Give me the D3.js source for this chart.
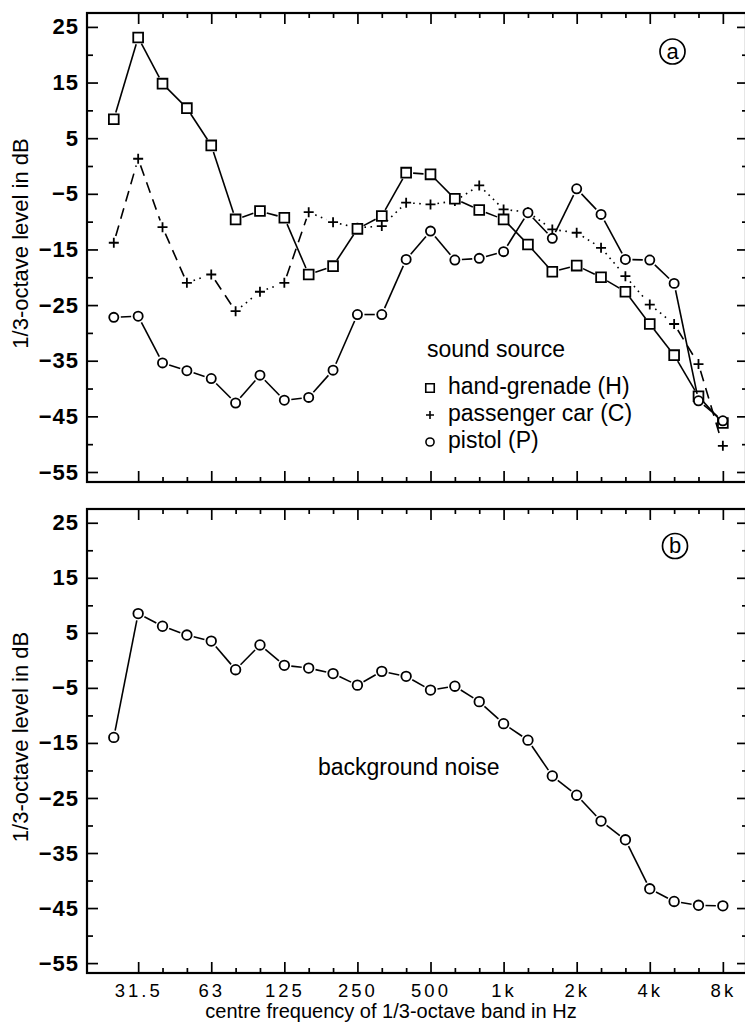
<!DOCTYPE html>
<html>
<head>
<meta charset="utf-8">
<script src="https://cdn.jsdelivr.net/npm/d3@7"></script>
<style>
  body { margin: 0; background: #fff; }
  svg text { font-family: 'Liberation Sans', Arial, Helvetica, sans-serif; fill: #000; }
</style>
</head>
<body>
<div id="chart"></div>
<script>
// 1/3-octave band centre frequencies (Hz)
const bands = ['25', '31.5', '40', '50', '63', '80', '100', '125', '160', '200', '250', '315', '400',
  '500', '630', '800', '1k', '1.25k', '1.6k', '2k', '2.5k', '3.15k', '4k', '5k', '6.3k', '8k'];
const xMajorLabels = ['31.5', '63', '125', '250', '500', '1k', '2k', '4k', '8k'];
const yMajorTicks = [25, 15, 5, -5, -15, -25, -35, -45, -55];
const yMinorTicks = [20, 10, 0, -10, -20, -30, -40, -50];

// levels in dB
const handGrenade = [8.4, 23.1, 14.8, 10.4, 3.7, -9.6, -8.1, -9.3, -19.5, -18.0, -11.3, -9.0, -1.2,
  -1.5, -5.9, -7.9, -9.6, -14.1, -19.0, -17.9, -20.0, -22.6, -28.4, -34.0, -41.4, -46.2];
const passengerCar = [-13.8, 1.3, -11.0, -21.0, -19.5, -26.1, -22.6, -21.0, -8.3, -10.1, -11.1, -10.8, -6.6,
  -6.9, -6.3, -3.5, -7.8, -8.3, -11.4, -12.0, -14.7, -19.8, -24.9, -28.4, -35.6, -50.3];
const pistol = [-27.2, -27.0, -35.4, -36.8, -38.2, -42.6, -37.6, -42.1, -41.6, -36.7, -26.7, -26.7, -16.8,
  -11.7, -16.9, -16.6, -15.4, -8.4, -13.0, -4.1, -8.7, -16.8, -16.9, -21.1, -42.2, -45.8];
const backgroundNoise = [-14.0, 8.5, 6.2, 4.6, 3.5, -1.7, 2.8, -0.9, -1.4, -2.4, -4.5, -2.0, -2.9,
  -5.4, -4.7, -7.5, -11.5, -14.5, -21.0, -24.5, -29.2, -32.6, -41.5, -43.8, -44.5, -44.6];

const legendLabels = ['hand-grenade (H)', 'passenger car (C)', 'pistol (P)'];

const width = 745, height = 1027;
const left = 87, right = 746;

const svg = d3.select('#chart')
  .append('svg')
  .attr('width', width)
  .attr('height', height);

// band index -> px
const x = d3.scaleLinear().domain([-1.1, 25.95]).range([left, right]);

const majorIdx = xMajorLabels.map(l => bands.indexOf(l));
const minorIdx = d3.range(1, bands.length).filter(i => !majorIdx.includes(i));

const squareSym = d3.symbol().type(d3.symbolSquare).size(96);
const circleSym = d3.symbol().type(d3.symbolCircle).size(66);
const plusPath = 'M-5,0H5M0,-5V5';

function makePanel(top, bottom, tag, showLabels) {
  const g = svg.append('g');
  const y = d3.scaleLinear().domain([-56.8, 27.5]).range([bottom, top]);

  // ticks (all pointing inward)
  const axes = [
    { axis: d3.axisLeft(y).tickValues(yMajorTicks).tickSize(-11).tickPadding(8), at: `translate(${left},0)`, labels: true },
    { axis: d3.axisLeft(y).tickValues(yMinorTicks).tickSize(-6).tickFormat(''), at: `translate(${left},0)` },
    { axis: d3.axisRight(y).tickValues(yMajorTicks).tickSize(-9).tickFormat(''), at: `translate(${right},0)` },
    { axis: d3.axisRight(y).tickValues(yMinorTicks).tickSize(-4).tickFormat(''), at: `translate(${right},0)` },
    { axis: d3.axisTop(x).tickValues(majorIdx).tickSize(-11).tickFormat(''), at: `translate(0,${top})` },
    { axis: d3.axisTop(x).tickValues(minorIdx).tickSize(-5).tickFormat(''), at: `translate(0,${top})` },
    { axis: d3.axisBottom(x).tickValues(majorIdx).tickSize(-11).tickPadding(11)
        .tickFormat(i => showLabels ? bands[i] : ''), at: `translate(0,${bottom})`, xlabels: true },
    { axis: d3.axisBottom(x).tickValues(minorIdx).tickSize(-5).tickFormat(''), at: `translate(0,${bottom})` },
  ];
  axes.forEach(a => {
    const ag = g.append('g').attr('transform', a.at).call(a.axis);
    ag.select('.domain').remove();
    ag.selectAll('line').attr('stroke', '#000').attr('stroke-width', 1.7);
    if (a.labels) {
      ag.selectAll('text')
        .style('font-size', '22px')
        .style('font-weight', 'bold')
        .style('letter-spacing', '1px')
        .attr('fill', '#000');
    }
    if (a.xlabels) {
      ag.selectAll('text')
        .style('font-size', '18.5px')
        .style('letter-spacing', '3px')
        .attr('fill', '#000');
    }
  });

  // frame
  g.append('rect')
    .attr('x', left).attr('y', top)
    .attr('width', right - left).attr('height', bottom - top)
    .attr('fill', 'none')
    .attr('stroke', '#000')
    .attr('stroke-width', 2.2);

  // y axis title
  g.append('text')
    .attr('transform', `translate(28,${(top + bottom) / 2 - 4}) rotate(-90)`)
    .attr('text-anchor', 'middle')
    .style('font-size', '22px')
    .text('1/3-octave level in dB');

  // circled panel tag
  const tx = tag === 'a' ? 672.5 : 675;
  const ty = top + (tag === 'a' ? 38.5 : 37);
  g.append('circle')
    .attr('cx', tx).attr('cy', ty).attr('r', 12.5)
    .attr('fill', 'none').attr('stroke', '#000').attr('stroke-width', 1.7);
  g.append('text')
    .attr('x', tx).attr('y', ty + 7)
    .attr('text-anchor', 'middle')
    .style('font-size', '22px')
    .text(tag);

  return { g, y };
}

// one line per segment, stopping short of the markers
function drawSeries(panel, values, marker, dashFn) {
  const pts = values.map((v, i) => [x(i), panel.y(v)]);
  const gap = 7;
  const segs = d3.pairs(pts).map(([p, q]) => {
    const dx = q[0] - p[0], dy = q[1] - p[1];
    const len = Math.hypot(dx, dy);
    const ux = dx / len, uy = dy / len;
    return { x1: p[0] + ux * gap, y1: p[1] + uy * gap, x2: q[0] - ux * gap, y2: q[1] - uy * gap, len };
  });

  panel.g.append('g')
    .selectAll('line')
    .data(segs)
    .enter()
    .append('line')
    .attr('x1', d => d.x1).attr('y1', d => d.y1)
    .attr('x2', d => d.x2).attr('y2', d => d.y2)
    .attr('stroke', '#000')
    .attr('stroke-width', 1.6)
    .attr('stroke-dasharray', d => dashFn ? dashFn(d) : null);

  panel.g.append('g')
    .selectAll('path')
    .data(pts)
    .enter()
    .append('path')
    .attr('transform', d => `translate(${d[0]},${d[1]})`)
    .attr('d', marker)
    .attr('fill', marker === plusPath ? 'none' : '#fff')
    .attr('stroke', '#000')
    .attr('stroke-width', 1.8);
}

const panelA = makePanel(13, 482, 'a', false);
const panelB = makePanel(509, 973, 'b', true);

// passenger car: dash-dot look, short segments come out dotted
const carDash = d => d.len < 40 ? '1.6,4.5' : '11,7';

drawSeries(panelA, passengerCar, plusPath, carDash);
drawSeries(panelA, handGrenade, squareSym());
drawSeries(panelA, pistol, circleSym());
drawSeries(panelB, backgroundNoise, d3.symbol().type(d3.symbolCircle).size(72)());

// legend
const legend = panelA.g.append('g');
legend.append('text')
  .attr('x', 427).attr('y', 357)
  .style('font-size', '23px')
  .text('sound source');

const legendMarkers = [d3.symbol().type(d3.symbolSquare).size(72)(), 'M-4,0H4M0,-4V4', d3.symbol().type(d3.symbolCircle).size(52)()];
const legendRows = legend.selectAll('g.row')
  .data(legendLabels)
  .enter()
  .append('g')
  .attr('class', 'row')
  .attr('transform', (d, i) => `translate(0,${394 + i * 27})`);

legendRows.append('path')
  .attr('transform', 'translate(430,-6)')
  .attr('d', (d, i) => legendMarkers[i])
  .attr('fill', (d, i) => i === 1 ? 'none' : '#fff')
  .attr('stroke', '#000')
  .attr('stroke-width', 1.6);

legendRows.append('text')
  .attr('x', 448).attr('y', 0)
  .style('font-size', '23px')
  .text(d => d);

panelB.g.append('text')
  .attr('x', 318).attr('y', 775)
  .style('font-size', '23px')
  .text('background noise');

// x axis title
svg.append('text')
  .attr('x', 391).attr('y', 1018)
  .attr('text-anchor', 'middle')
  .style('font-size', '20px')
  .text('centre frequency of 1/3-octave band in Hz');
</script>
</body>
</html>
